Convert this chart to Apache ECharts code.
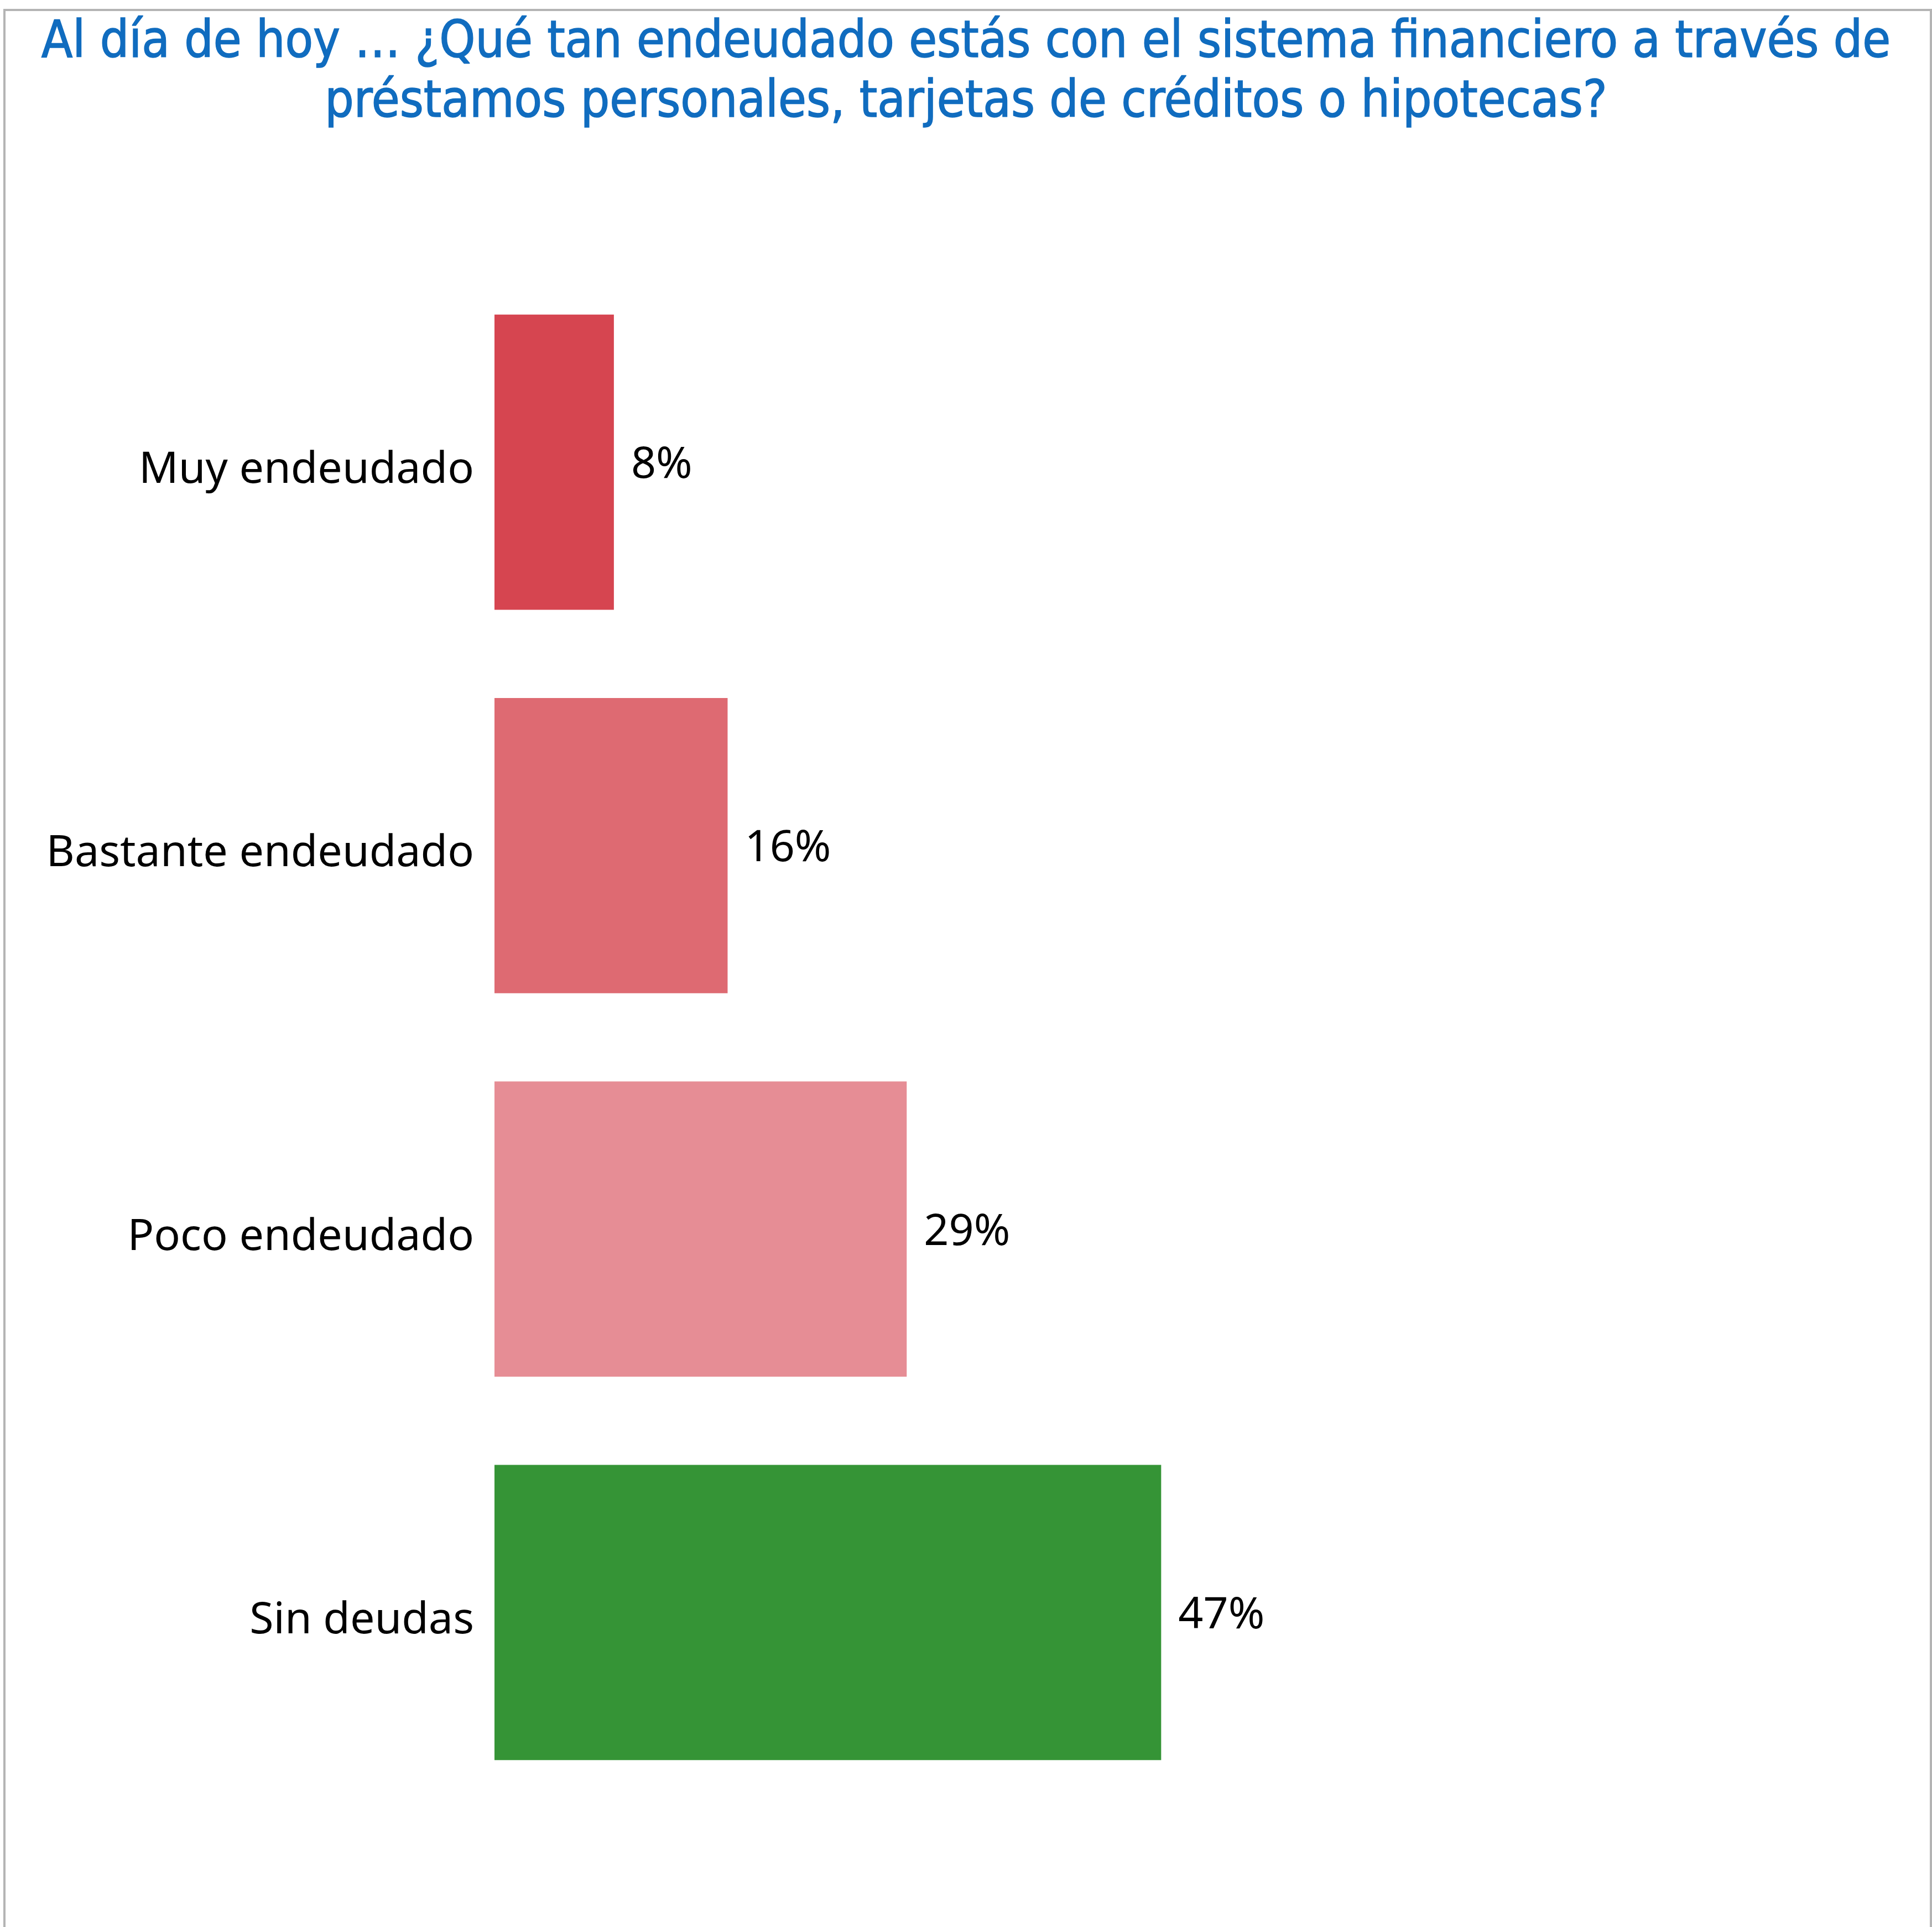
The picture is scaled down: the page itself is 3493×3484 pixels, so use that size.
<!DOCTYPE html>
<html>
<head>
<meta charset="utf-8">
<script src="https://cdn.jsdelivr.net/npm/echarts@6/dist/echarts.min.js"></script>
<style>
  html, body { margin: 0; padding: 0; background: #ffffff; }
  #chart { width: 3493px; height: 3484px; }
</style>
</head>
<body>
<div id="chart"></div>
<script>
const titleText = 'Al día de hoy … ¿Qué tan endeudado estás con el sistema financiero a través de\npréstamos personales, tarjetas de créditos o hipotecas?';
const categories = ['Muy endeudado', 'Bastante endeudado', 'Poco endeudado', 'Sin deudas'];
const values = [8.4, 16.4, 29.0, 46.9];
const valueLabels = ['8%', '16%', '29%', '47%'];
const barColors = ['#D64550', '#DE6A72', '#E68D95', '#359436'];

const chart = echarts.init(document.getElementById('chart'), null, { renderer: 'canvas' });

chart.setOption({
  backgroundColor: '#ffffff',
  animation: false,
  title: {
    text: titleText,
    left: 'center',
    top: 20,
    textStyle: {
      fontFamily: "'DejaVu Sans Condensed', 'Liberation Sans Narrow', sans-serif",
      fontSize: 92,
      fontWeight: 'normal',
      lineHeight: 108,
      color: '#106CBF',
      textBorderColor: '#106CBF',
      textBorderWidth: 1.5
    }
  },
  graphic: [{
    type: 'rect',
    silent: true,
    z: -1,
    shape: { x: 8, y: 18, width: 3483, height: 3600 },
    style: { fill: 'none', stroke: '#B4B4B4', lineWidth: 4 }
  }],
  grid: {
    left: 894,
    right: 29,
    top: 489,
    bottom: 222,
    containLabel: false
  },
  xAxis: {
    type: 'value',
    min: 0,
    max: 100,
    show: false
  },
  yAxis: {
    type: 'category',
    data: categories,
    inverse: true,
    axisLine: { show: false },
    axisTick: { show: false },
    splitLine: { show: false },
    axisLabel: {
      margin: 37,
      formatter: v => '{c|' + v + '}',
      rich: {
        c: {
          fontFamily: "'Noto Sans', sans-serif",
          fontSize: 79,
          color: '#000000',
          padding: [30, 0, 0, 0]
        }
      }
    }
  },
  series: [{
    type: 'bar',
    data: values.map((v, i) => ({ value: v, itemStyle: { color: barColors[i] } })),
    barCategoryGap: '23%',
    label: {
      show: true,
      position: 'right',
      distance: 31,
      offset: [0, 6],
      formatter: p => valueLabels[p.dataIndex],
      fontFamily: "'Noto Sans', sans-serif",
      fontSize: 79,
      color: '#000000'
    }
  }]
});
</script>
</body>
</html>
